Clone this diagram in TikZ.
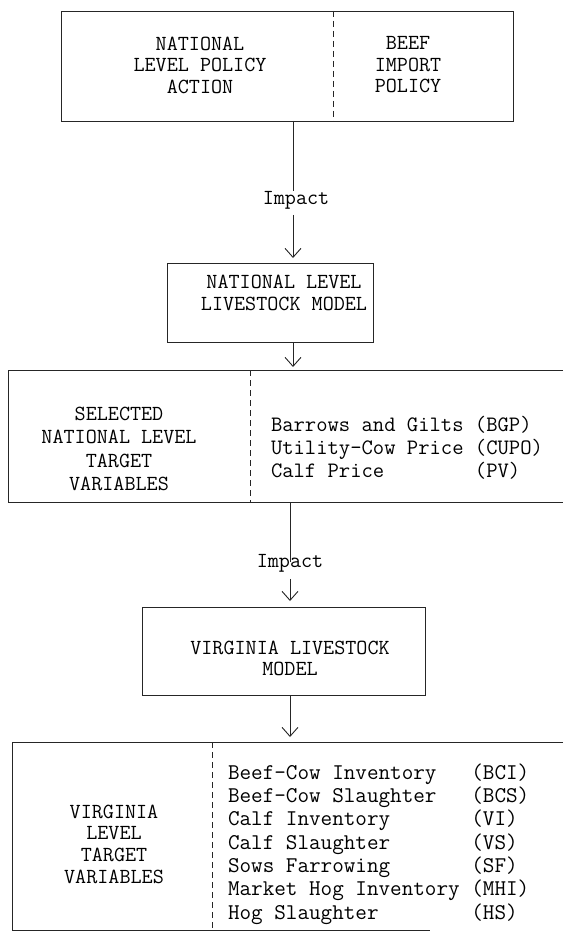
\documentclass[tikz,border=0pt]{standalone}
\usepackage{fontspec}
\usetikzlibrary{arrows.meta}
\begin{document}
\begin{tikzpicture}[x=1pt,y=-1pt,
  every node/.style={inner sep=0pt, outer sep=0pt},
  frame/.style={draw=black!85, line width=0.9pt},
  divider/.style={draw=black!85, line width=0.8pt, dash pattern=on 6pt off 4pt},
  conn/.style={draw=black!85, line width=0.9pt},
  arr/.style={conn, -{Straight Barb[length=9pt,width=16pt,line width=0.9pt]}},
  txt/.style={font=\fontsize{21.5}{22}\selectfont\ttfamily, align=center, text=black},
  lst/.style={font=\fontsize{22}{23}\selectfont\ttfamily, align=left, anchor=west, text=black},
  lstb/.style={font=\fontsize{22.5}{23.3}\selectfont\ttfamily, align=left, anchor=west, text=black}
]
\useasboundingbox (0,0) rectangle (563,941);
\fill[white] (0,0) rectangle (563,941);

% box 1
\node[frame, minimum width=452pt, minimum height=110pt] (box1) at (287,66) {};
\coordinate (d1t) at (333,11);
\coordinate (d1b) at (333,121);
\draw[divider] (d1t) -- (d1b);
\node[txt, font=\fontsize{21.5}{21.5}\selectfont\ttfamily] (t1a) at (200,65) {NATIONAL\\LEVEL POLICY\\ACTION};
\node[txt, font=\fontsize{21.5}{21.5}\selectfont\ttfamily] (t1b) at (408,65) {BEEF\\IMPORT\\POLICY};

% impact 1
\node[txt] (imp1) at (296,200) {Impact};

% box 2
\node[frame, minimum width=206pt, minimum height=79pt] (box2) at (270,302.5) {};
\node[txt, font=\fontsize{21.5}{21.5}\selectfont\ttfamily] (t2) at (284,293) {NATIONAL LEVEL\\LIVESTOCK MODEL};

% box 3 (open at right)
\node[minimum width=555pt, minimum height=132pt] (box3) at (285.5,436) {};
\draw[frame] (box3.north east) -- (box3.north west) -- (box3.south west) -- (box3.south east);
\coordinate (d3t) at (250,370);
\coordinate (d3b) at (250,502);
\draw[divider] (d3t) -- (d3b);
\node[txt, font=\fontsize{21.5}{23.5}\selectfont\ttfamily] (t3a) at (119,449) {SELECTED\\NATIONAL LEVEL\\TARGET\\VARIABLES};
\node[lst] (t3b) at (271,448) {Barrows and Gilts~(BGP)\\Utility-Cow Price~(CUPO)\\Calf Price~~~~~~~~(PV)};

% impact 2
\node[txt] (imp2) at (290,563) {Impact};

% box 4
\node[frame, minimum width=283pt, minimum height=88pt] (box4) at (283.5,651) {};
\node[txt, font=\fontsize{21.5}{21}\selectfont\ttfamily] (t4) at (290,658) {VIRGINIA LIVESTOCK\\MODEL};

% box 5 (open at right)
\node[minimum width=551pt, minimum height=188pt] (box5) at (287.5,836) {};
\coordinate (b5end) at (430,930);
\draw[frame] (box5.north east) -- (box5.north west) -- (box5.south west) -- (b5end);
\coordinate (d5t) at (212,742);
\coordinate (d5b) at (212,930);
\draw[divider] (d5t) -- (d5b);
\node[txt, font=\fontsize{21.5}{21.7}\selectfont\ttfamily] (t5a) at (114,844) {VIRGINIA\\LEVEL\\TARGET\\VARIABLES};
\node[lstb] (t5b) at (228,844) {Beef-Cow Inventory~~~(BCI)\\Beef-Cow Slaughter~~~(BCS)\\Calf Inventory~~~~~~~(VI)\\Calf Slaughter~~~~~~~(VS)\\Sows Farrowing~~~~~~~(SF)\\Market Hog Inventory~(MHI)\\Hog Slaughter~~~~~~~~(HS)};

% connectors
\draw[conn] (box1.south -| imp1) ++(-3,0) coordinate (c1) (c1) -- (c1 |- imp1.north) ++(0,-10);
\draw[arr, shorten >=5pt] ([xshift=-3pt]imp1.south) ++(0,6) coordinate (c2) (c2) -- (c2 |- box2.north);
\draw[arr, shorten >=3pt] (box2.south -| c2) -- (box3.north -| c2);
\draw[conn] (box3.south -| imp2) -- ([yshift=-8pt]imp2.north);
\draw[arr, shorten >=6pt] ([yshift=-7pt]imp2.south) -- (imp2.south |- box4.north);
\draw[arr, shorten >=5pt] (box4.south -| imp2) -- (box5.north -| imp2);
\end{tikzpicture}
\end{document}
